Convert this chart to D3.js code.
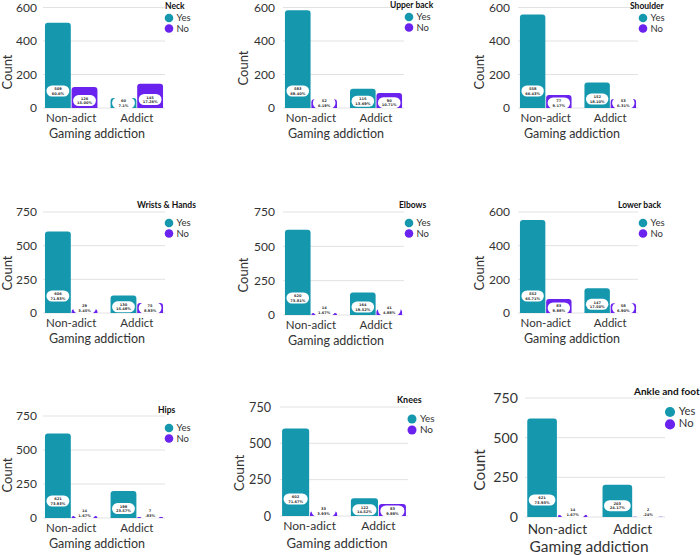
<!DOCTYPE html>
<html>
<head>
<meta charset="utf-8">
<script src="https://cdn.jsdelivr.net/npm/d3@7"></script>
<style>
  html, body { margin: 0; padding: 0; background: #fff; }
  svg { display: block; font-family: Lato, "Open Sans", sans-serif; }
</style>
</head>
<body>
<svg id="chart" width="700" height="555"></svg>
<script>
// ---------- DATA ----------
const regions = ["Neck", "Upper back", "Shoulder", "Wrists & Hands", "Elbows", "Lower back", "Hips", "Knees", "Ankle and foot"];
const groups = ["Non-adict", "Addict"];
const answers = ["Yes", "No"];
const nonAdictYes = [509, 583, 558, 606, 620, 552, 621, 602, 621];
const nonAdictNo  = [126, 52, 77, 29, 14, 83, 14, 33, 14];
const addictYes   = [60, 115, 152, 130, 164, 147, 198, 122, 203];
const addictNo    = [145, 90, 53, 75, 41, 58, 7, 83, 2];
const nonAdictYesPct = ["60.6%", "69.40%", "66.43%", "71.93%", "73.81%", "65.71%", "73.93%", "71.67%", "73.93%"];
const nonAdictNoPct  = ["15.00%", "6.19%", "9.17%", "3.45%", "1.67%", "9.88%", "1.67%", "3.93%", "1.67%"];
const addictYesPct   = ["7.1%", "13.69%", "18.10%", "15.48%", "19.52%", "17.50%", "23.57%", "14.52%", "24.17%"];
const addictNoPct    = ["17.26%", "10.71%", "6.31%", "8.93%", "4.88%", "6.90%", ".83%", "9.88%", ".24%"];
const yMax = [600, 600, 600, 750, 750, 600, 750, 750, 750];
const ticks600 = [0, 200, 400, 600];
const ticks750 = [0, 250, 500, 750];
const xTitle = "Gaming addiction";
const yTitle = "Count";

// ---------- LAYOUT (positions only) ----------
const layout = [
  {L:43,  R:165, T:7.5, B:108, tickX:37,  cX:12,  cY:72,  tX:165, tY:9,   lX:169, lY:18,  xl:122, xt:138, xtX:97,  f:1},
  {L:283, R:404, T:7.5, B:108, tickX:275, cX:248, cY:68,  tX:390, tY:8,   lX:409, lY:17,  xl:122, xt:138, xtX:336, f:1},
  {L:518, R:638, T:7.5, B:108, tickX:510, cX:484, cY:72,  tX:630, tY:9,   lX:643, lY:18,  xl:122, xt:138, xtX:572, f:1},
  {L:43,  R:165, T:212, B:313, tickX:37,  cX:12,  cY:273, tX:137, tY:208, lX:169, lY:223, xl:327, xt:343, xtX:97,  f:1},
  {L:283, R:404, T:212, B:315, tickX:275, cX:248, cY:275, tX:399, tY:208, lX:409, lY:223, xl:329, xt:345, xtX:336, f:1},
  {L:518, R:638, T:212, B:313, tickX:510, cX:484, cY:273, tX:618, tY:208, lX:643, lY:223, xl:327, xt:343, xtX:572, f:1},
  {L:43,  R:165, T:416, B:518, tickX:37,  cX:12,  cY:475, tX:158, tY:413, lX:169, lY:428, xl:532, xt:548, xtX:97,  f:1},
  {L:280, R:408, T:407, B:516, tickX:271, cX:244, cY:473, tX:397, tY:403, lX:412, lY:419, xl:530, xt:548, xtX:337, f:1.05},
  {L:525, R:665, T:398, B:517, tickX:518, cX:485, cY:470, tX:634, tY:395, lX:670, lY:412, xl:534, xt:552, xtX:589, f:1.18}
];

const colors = {Yes: "#1598ae", No: "#6a22ee"};
const svg = d3.select("#chart");

function topRounded(x, y, w, h, r) {
  r = Math.min(r, w / 2, h);
  if (h <= 0) return "";
  return `M${x},${y + h}V${y + r}Q${x},${y} ${x + r},${y}H${x + w - r}Q${x + w},${y} ${x + w},${y + r}V${y + h}Z`;
}

regions.forEach((region, i) => {
  const lay = layout[i];
  const g = svg.append("g");
  const ticks = yMax[i] === 600 ? ticks600 : ticks750;
  const y = d3.scaleLinear().domain([0, yMax[i]]).range([lay.B, lay.T]);
  const x0 = d3.scaleBand().domain(groups).range([lay.L, lay.R]).paddingInner(0.2).paddingOuter(0.03);
  const x1 = d3.scaleBand().domain(answers).range([0, x0.bandwidth()]).paddingInner(0.03);

  const vals = {
    "Non-adict": {Yes: [nonAdictYes[i], nonAdictYesPct[i]], No: [nonAdictNo[i], nonAdictNoPct[i]]},
    "Addict": {Yes: [addictYes[i], addictYesPct[i]], No: [addictNo[i], addictNoPct[i]]}
  };
  const rows = [];
  groups.forEach(gr => answers.forEach(a => rows.push({group: gr, ans: a, v: vals[gr][a][0], p: vals[gr][a][1]})));

  // gridlines
  g.append("g").selectAll("line").data(ticks).join("line")
    .attr("x1", lay.L).attr("x2", lay.R)
    .attr("y1", d => y(d)).attr("y2", d => y(d))
    .attr("stroke", "#e2e2e2").attr("stroke-width", 1);

  // y-axis tick labels via d3 axis
  const yAxis = d3.axisLeft(y).tickValues(ticks).tickSize(0).tickPadding(0);
  const ya = g.append("g").attr("transform", `translate(${lay.tickX},0)`).call(yAxis);
  ya.select(".domain").remove();
  ya.selectAll("text").attr("font-family", "Lato, sans-serif").attr("font-size", 12 * lay.f).attr("fill", "#333");

  // x-axis labels via d3 axis
  const xAxis = d3.axisBottom(x0).tickSize(0).tickPadding(0);
  const xa = g.append("g").attr("transform", `translate(0,${lay.xl})`).call(xAxis);
  xa.select(".domain").remove();
  xa.selectAll("text").attr("dy", null).attr("y", 0).attr("font-family", "Lato, sans-serif")
    .attr("font-size", 11.5 * lay.f).attr("fill", "#333");

  // bars
  g.append("g").selectAll("path").data(rows).join("path")
    .attr("d", d => {
      const bx = x0(d.group) + x1(d.ans);
      const by = y(d.v);
      return topRounded(bx, by, x1.bandwidth(), y(0) - by, 3);
    })
    .attr("fill", d => colors[d.ans]);

  // value pills
  const pw = x1.bandwidth() - 3, ph = 11;
  const pills = g.append("g").selectAll("g").data(rows).join("g")
    .attr("transform", d => {
      const h = y(0) - y(d.v);
      const c = Math.max(5, Math.min(17, h * 0.35));
      return `translate(${x0(d.group) + x1(d.ans) + x1.bandwidth() / 2},${y(0) - c})`;
    });
  pills.append("rect")
    .attr("x", -pw / 2).attr("y", -ph / 2).attr("width", pw).attr("height", ph)
    .attr("rx", ph / 2).attr("fill", "#fff");
  pills.append("text").attr("text-anchor", "middle").attr("y", -0.8)
    .attr("font-family", "DejaVu Sans, sans-serif").attr("font-size", 3.6).attr("font-weight", "bold")
    .attr("fill", "#333").text(d => d.v);
  pills.append("text").attr("text-anchor", "middle").attr("y", 3.6)
    .attr("font-family", "DejaVu Sans, sans-serif").attr("font-size", 3.6).attr("font-weight", "bold")
    .attr("fill", "#333").text(d => d.p);

  // axis titles
  g.append("text").attr("x", lay.xtX).attr("y", lay.xt).attr("text-anchor", "middle")
    .attr("font-size", 12.5 * lay.f * (lay.f > 1.1 ? 1.05 : 1)).attr("fill", "#333").text(xTitle);
  g.append("text").attr("transform", `translate(${lay.cX},${lay.cY}) rotate(-90)`)
    .attr("text-anchor", "middle").attr("font-size", 13 * lay.f).attr("fill", "#333").text(yTitle);

  // legend
  g.append("text").attr("x", lay.tX).attr("y", lay.tY).attr("font-weight", "bold")
    .attr("font-size", 8.5 * lay.f).attr("fill", "#111").text(region);
  const lg = g.append("g").selectAll("g").data(answers).join("g")
    .attr("transform", (d, k) => `translate(${lay.lX},${lay.lY + k * 10.5 * lay.f})`);
  lg.append("circle").attr("r", 4.3 * lay.f).attr("fill", d => colors[d]);
  lg.append("text").attr("x", 7.5 * lay.f).attr("y", 3).attr("font-size", 9.5 * lay.f).attr("fill", "#333").text(d => d);
});
</script>
</body>
</html>
